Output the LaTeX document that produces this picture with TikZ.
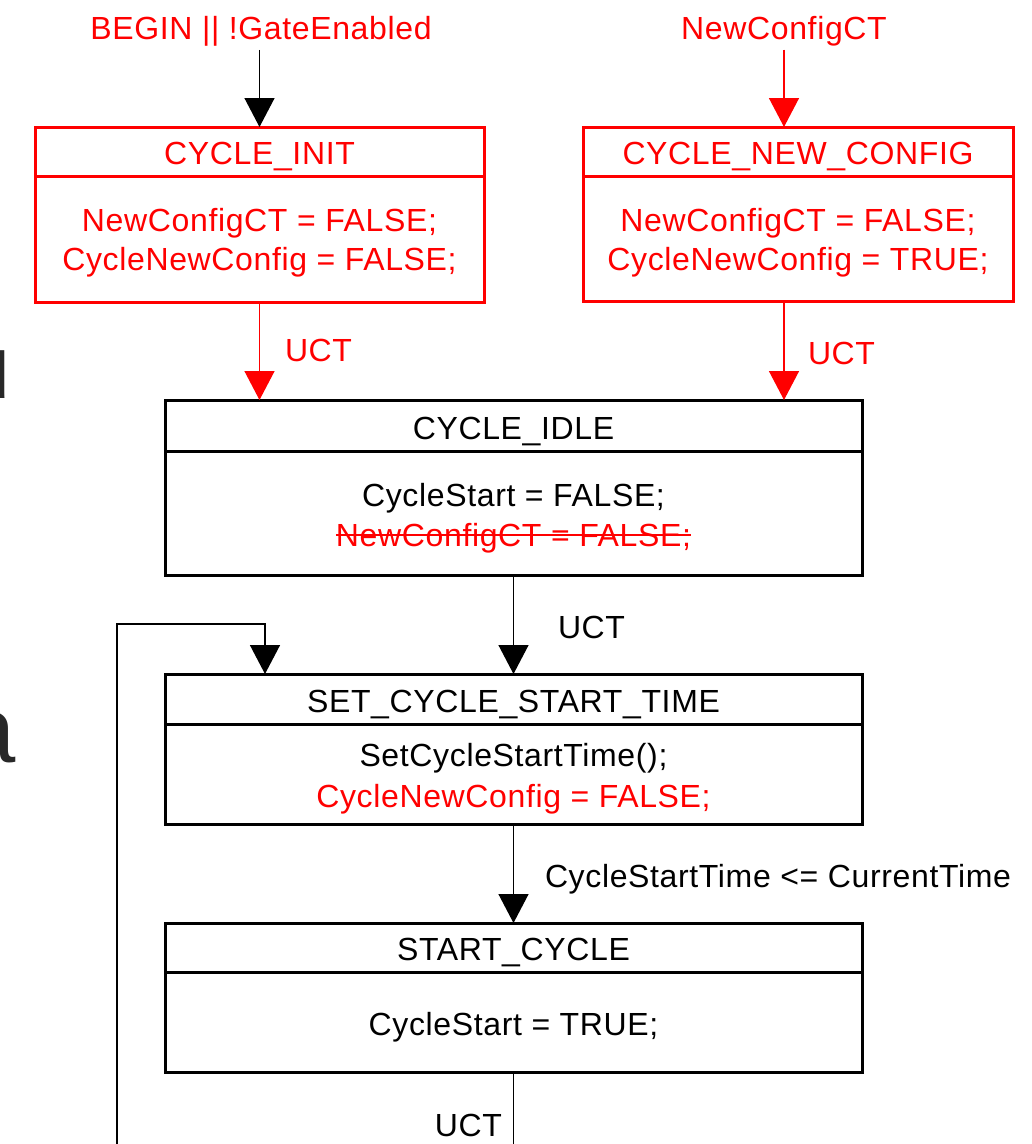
\documentclass[tikz,border=0pt]{standalone}
\usepackage{fontspec}
\setmainfont{Liberation Sans}[LetterSpace=2]
\usetikzlibrary{arrows.meta,calc}
\definecolor{sred}{RGB}{255,0,0}
\definecolor{sgray}{RGB}{40,40,40}
\begin{document}
\begin{tikzpicture}[x=1pt,y=-1pt,
  sbox/.style={draw, line width=3pt, inner sep=0pt, outer sep=0pt, anchor=north west},
  divline/.style={line width=3pt},
  txt/.style={inner sep=0pt, outer sep=0pt, anchor=base, font=\fontsize{32}{40}\selectfont},
  conn/.style={line width=1.4pt, -{Triangle[width=30pt,length=29pt]}},
  plainconn/.style={line width=1.4pt},
]
\useasboundingbox (0,0) rectangle (1032,1144);
\fill[white] (0,0) rectangle (1032,1144);

% cut-off letters at the left edge (partly outside the picture, as in the reference)
\node[inner sep=0pt, anchor=base east, text=sgray, font=\fontsize{66}{66}\selectfont] (cutd) at (9,398) {d};
\node[inner sep=0pt, anchor=base east, text=sgray, font=\fontsize{94}{94}\selectfont] (cuta) at (16,762) {a};

% top trigger labels
\node[txt, text=sred] (lblbegin) at (261,39) {BEGIN || !GateEnabled};
\node[txt, text=sred] (lblcfg) at (784,39) {NewConfigCT};

% CYCLE_INIT
\node[sbox, draw=sred, minimum width=449pt, minimum height=175pt] (init) at (35,127) {};
\draw[divline, sred] ($(init.north west)+(0,49)$) -- ($(init.north east)+(0,49)$);
\node[txt, text=sred] (inittitle) at (259.5,164) {CYCLE\_INIT};
\node[txt, text=sred] (initb1) at (259.5,231) {NewConfigCT = FALSE;};
\node[txt, text=sred] (initb2) at (259.5,270) {CycleNewConfig = FALSE;};

% CYCLE_NEW_CONFIG
\node[sbox, draw=sred, minimum width=430pt, minimum height=174pt] (cfg) at (583,127) {};
\draw[divline, sred] ($(cfg.north west)+(0,49)$) -- ($(cfg.north east)+(0,49)$);
\node[txt, text=sred] (cfgtitle) at (798,164) {CYCLE\_NEW\_CONFIG};
\node[txt, text=sred] (cfgb1) at (798,231) {NewConfigCT = FALSE;};
\node[txt, text=sred] (cfgb2) at (798,270) {CycleNewConfig = TRUE;};

% CYCLE_IDLE
\node[sbox, minimum width=697pt, minimum height=175pt] (idle) at (165,400) {};
\draw[divline] ($(idle.north west)+(0,51)$) -- ($(idle.north east)+(0,51)$);
\node[txt] (idletitle) at (513.5,439) {CYCLE\_IDLE};
\node[txt] (idleb1) at (513.5,506) {CycleStart = FALSE;};
\node[txt, text=sred] (idleb2) at (513.5,546) {NewConfigCT = FALSE;};
\draw[sred, line width=1.6pt] ($(idleb2.base west)+(0,-11)$) -- ($(idleb2.base east)+(0,-11)$);

% SET_CYCLE_START_TIME
\node[sbox, minimum width=697pt, minimum height=150pt] (sst) at (165,674) {};
\draw[divline] ($(sst.north west)+(0,50)$) -- ($(sst.north east)+(0,50)$);
\node[txt] (ssttitle) at (513.5,712) {SET\_CYCLE\_START\_TIME};
\node[txt] (sstb1) at (513.5,766) {SetCycleStartTime();};
\node[txt, text=sred] (sstb2) at (513.5,807) {CycleNewConfig = FALSE;};

% START_CYCLE
\node[sbox, minimum width=697pt, minimum height=149pt] (sc) at (165,923) {};
\draw[divline] ($(sc.north west)+(0,49)$) -- ($(sc.north east)+(0,49)$);
\node[txt] (sctitle) at (513.5,960) {START\_CYCLE};
\node[txt] (scb1) at (513.5,1035) {CycleStart = TRUE;};

% connectors
\draw[conn] ($(init.north |- lblbegin.south)+(0,4)$) -- (init.north);
\draw[conn, sred] ($(lblcfg.south)+(0,4)$) -- (lblcfg |- cfg.north);

\draw[conn, sred] (init.south) -- (init.south |- idle.north);
\node[txt, anchor=base west, text=sred] (uct1) at (285,361) {UCT};
\draw[conn, sred] (lblcfg |- cfg.south) -- (lblcfg |- idle.north);
\node[txt, anchor=base west, text=sred] (uct2) at (808,364) {UCT};

\draw[conn] (idle.south) -- (sst.north);
\node[txt, anchor=base west] (uct3) at (558,638) {UCT};

\draw[conn] (sst.south) -- (sc.north);
\node[txt, anchor=base west] (cond) at (545,887) {CycleStartTime <= CurrentTime};

\coordinate (loopbot) at (117,1144);
\coordinate (scbot) at (513.5,1144);
\draw[plainconn] (sc.south) -- (scbot);
\node[txt, anchor=base east] (uct4) at (502,1136) {UCT};
\draw[conn] (loopbot) |- ($(sst.north west)+(100,-50)$) -- ($(sst.north west)+(100,0)$);
\end{tikzpicture}
\end{document}
